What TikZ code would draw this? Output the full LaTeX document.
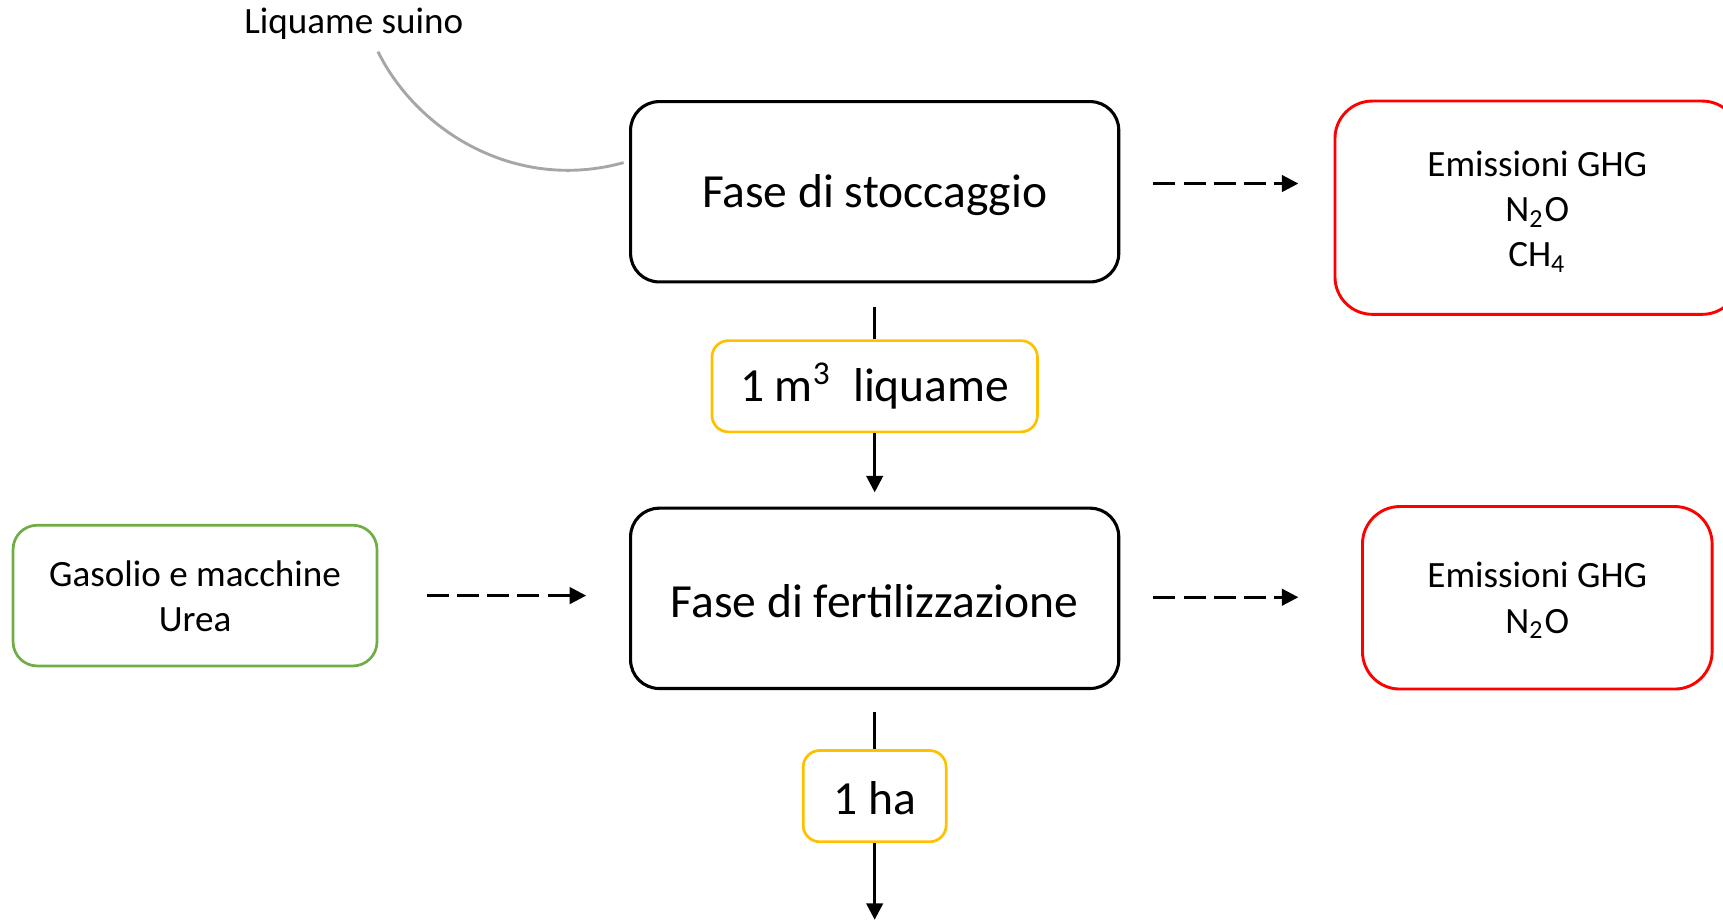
\documentclass[tikz,border=0pt]{standalone}
\usepackage{fontspec}
\setmainfont{Carlito}
\usetikzlibrary{arrows.meta}

\definecolor{ored}{HTML}{FF0000}
\definecolor{ogreen}{HTML}{70AD47}
\definecolor{oyellow}{HTML}{FFC000}
\definecolor{ogray}{HTML}{A6A6A6}

\begin{document}
\begin{tikzpicture}[x=0.01cm, y=-0.01cm, >={Triangle[length=0.15cm,width=0.15cm]}]
        \tikzstyle{every node} = [rectangle, align=center, inner sep=0pt]
        \tikzstyle{phase} = [draw=black, line width=0.8pt, rounded corners=0.26cm,
            minimum width=4.44cm, minimum height=1.64cm, font=\fontsize{12.3}{14.8}\selectfont]
        \tikzstyle{emis} = [draw=ored, line width=0.75pt, rounded corners=0.34cm,
            font=\fontsize{9.6}{11.7}\selectfont]
        \tikzstyle{supply} = [draw=ogreen, line width=0.7pt, rounded corners=0.22cm,
            minimum width=3.31cm, minimum height=1.28cm, font=\fontsize{9.6}{11.7}\selectfont]
        \tikzstyle{amount} = [draw=oyellow, line width=0.7pt, rounded corners=0.15cm,
            minimum height=0.83cm, font=\fontsize{12.3}{14.8}\selectfont]
        \tikzstyle{flow} = [->, line width=0.75pt]
        \tikzstyle{dflow} = [flow, dash pattern=on 0.2cm off 0.075cm]

        \clip (0,0) rectangle (1568,838);

        % input and phases
        \node (liq) at (322,22) {\fontsize{9.6}{11.7}\selectfont Liquame suino};
        \node[phase] (stoc) at (796,174.5) {\rule{0pt}{10.3pt}Fase di stoccaggio};
        \node[phase] (fert) at (796,544.5) {\rule{0pt}{9.8pt}Fase di fertilizzazione};
        \node[supply] (gas) at (177.5,542) {\rule{0pt}{7.2pt}Gasolio e macchine\\Urea};

        % functional units
        \node[amount, minimum width=2.96cm] (m3) at (796,351.5) {\rule{0pt}{9.8pt}1 m\textsuperscript{3}\ \ liquame};
        \node[amount, minimum width=1.30cm] (ha) at (796,724.5) {\rule{0pt}{9.4pt}1 ha};
        \coordinate (end) at (796,837);

        % emissions
        \node[emis, minimum width=3.68cm, minimum height=1.94cm] (em1) at (1399,189)
            {\rule{0pt}{8.7pt}Emissioni GHG\\N\textsubscript{2}O\\CH\textsubscript{4}};
        \node[emis, minimum width=3.18cm, minimum height=1.66cm] (em2) at (1399,544)
            {\rule{0pt}{8.1pt}Emissioni GHG\\N\textsubscript{2}O};

        \draw[ogray, line width=0.75pt] ([shift={(22,25)}]liq.center)
            .. controls (380,120) and (470,175) .. ([shift={(-5,-26.5)}]stoc.west);

        \draw[line width=0.75pt, shorten <=0.21cm] (stoc) -- (m3);
        \draw[flow, shorten >=0.13cm] (m3) -- (fert);
        \draw[line width=0.75pt, shorten <=0.2cm] (fert) -- (ha);
        \draw[flow] (ha) -- (end);

        \foreach \from/\to/\s/\e/\dy in {stoc/em1/0.30cm/0.32cm/7.5, gas/fert/0.44cm/0.39cm/0, fert/em2/0.30cm/0.57cm/1}
            \draw[dflow] ([shift={(0,-\dy)},xshift=\s]\from.east) -- ([shift={(0,-\dy)},xshift=-\e]\from.east -| \to.west);
      \end{tikzpicture}
\end{document}
